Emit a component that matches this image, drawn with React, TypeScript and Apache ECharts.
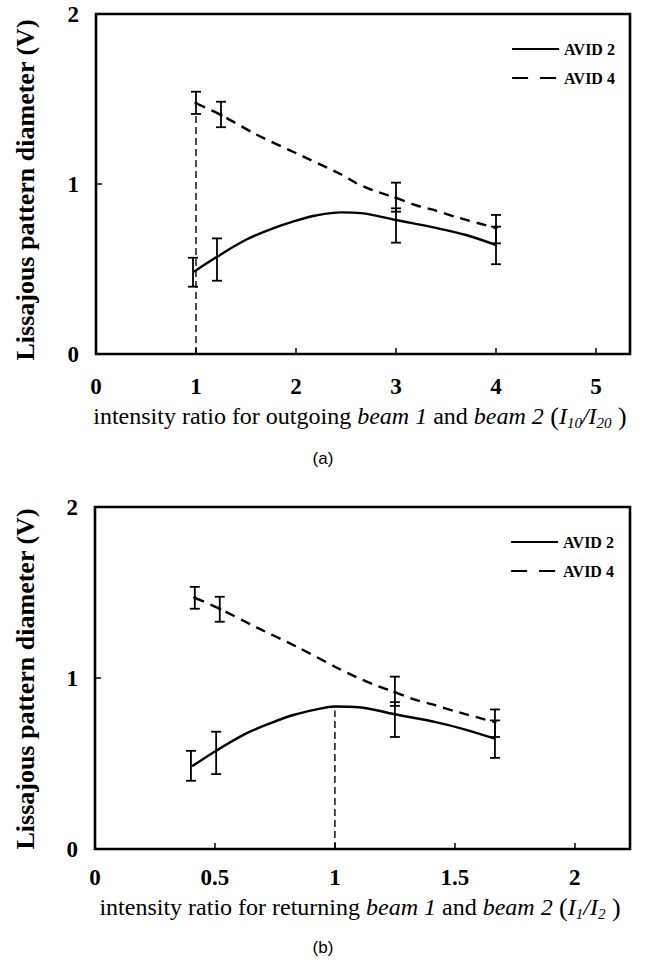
import React, { useEffect, useRef } from 'react';
import * as echarts from 'echarts';

// ---------- data ----------
const seriesNames = ['AVID 2', 'AVID 4'];
const yTickRange = [0, 2];
const yTickStep = 1;

// (a) outgoing beams, x = I10/I20
const aXRange = [0, 5.34];
const aXStep = 1;
const aAvid2CurveX = [0.98, 1.21, 1.5, 1.75, 2.0, 2.2, 2.45, 2.65, 3.0, 3.4, 3.7, 4.0];
const aAvid2CurveY = [0.484, 0.572, 0.672, 0.735, 0.785, 0.815, 0.833, 0.829, 0.788, 0.742, 0.7, 0.641];
const aAvid4CurveX = [1.0, 1.25, 1.6, 2.02, 2.44, 2.6, 2.77, 3.0, 3.2, 3.4, 3.6, 4.0];
const aAvid4CurveY = [1.475, 1.406, 1.292, 1.176, 1.06, 1.006, 0.963, 0.918, 0.875, 0.843, 0.806, 0.741];
const aAvid2ErrX = [0.97, 1.21, 3.0, 4.0];
const aAvid2ErrY = [0.484, 0.572, 0.788, 0.641];
const aAvid2ErrLow = [0.396, 0.431, 0.655, 0.528];
const aAvid2ErrHigh = [0.566, 0.68, 0.857, 0.749];
const aAvid4ErrX = [1.0, 1.25, 3.0, 4.0];
const aAvid4ErrY = [1.475, 1.406, 0.918, 0.741];
const aAvid4ErrLow = [1.412, 1.334, 0.837, 0.651];
const aAvid4ErrHigh = [1.543, 1.484, 1.008, 0.818];
const aRefLineX = [1, 1];
const aRefLineY = [0, 1.41];

// (b) returning beams, x = I1/I2
const bXRange = [0, 2.23];
const bXStep = 0.5;
const bAvid2CurveX = [0.405, 0.505, 0.625, 0.73, 0.83, 0.92, 1.0, 1.1, 1.25, 1.42, 1.54, 1.667];
const bAvid2CurveY = [0.484, 0.575, 0.672, 0.735, 0.785, 0.815, 0.833, 0.829, 0.788, 0.742, 0.7, 0.645];
const bAvid4CurveX = [0.416, 0.52, 0.675, 0.848, 1.0, 1.091, 1.16, 1.25, 1.33, 1.42, 1.5, 1.667];
const bAvid4CurveY = [1.469, 1.405, 1.295, 1.178, 1.066, 1.004, 0.963, 0.917, 0.875, 0.84, 0.806, 0.742];
const bAvid2ErrX = [0.4, 0.505, 1.25, 1.667];
const bAvid2ErrY = [0.484, 0.575, 0.788, 0.645];
const bAvid2ErrLow = [0.399, 0.438, 0.655, 0.533];
const bAvid2ErrHigh = [0.574, 0.686, 0.859, 0.752];
const bAvid4ErrX = [0.416, 0.52, 1.25, 1.667];
const bAvid4ErrY = [1.469, 1.405, 0.917, 0.742];
const bAvid4ErrLow = [1.405, 1.329, 0.837, 0.655];
const bAvid4ErrHigh = [1.533, 1.475, 1.008, 0.816];
const bRefLineX = [1, 1];
const bRefLineY = [0, 0.81];

// ---------- helpers ----------
const zip2 = (xs: number[], ys: number[]) => xs.map((x, i) => [x, ys[i]]);
const zip4 = (xs: number[], ys: number[], lo: number[], hi: number[]) =>
  xs.map((x, i) => [x, ys[i], lo[i], hi[i]]);

const SERIF = 'Liberation Serif';
const DASH_CURVE = [10, 7];

function errRender(dot: boolean) {
  return (_params: any, api: any) => {
    const x = api.value(0);
    const y = api.value(1);
    const lo = api.value(2);
    const hi = api.value(3);
    const pHi = api.coord([x, hi]);
    const pLo = api.coord([x, lo]);
    const pC = api.coord([x, y]);
    const hw = 5;
    const style = { stroke: '#000', lineWidth: 1.8, fill: 'none' };
    const children: any[] = [
      { type: 'line', shape: { x1: pHi[0], y1: pHi[1], x2: pLo[0], y2: pLo[1] }, style },
      { type: 'line', shape: { x1: pHi[0] - hw, y1: pHi[1], x2: pHi[0] + hw, y2: pHi[1] }, style },
      { type: 'line', shape: { x1: pLo[0] - hw, y1: pLo[1], x2: pLo[0] + hw, y2: pLo[1] }, style },
    ];
    if (dot) {
      children.push({ type: 'circle', shape: { cx: pC[0], cy: pC[1], r: 1.7 }, style: { fill: '#000' } });
    }
    return { type: 'group', children };
  };
}

function xAxisCfg(gridIndex: number, range: number[], step: number, margin: number) {
  return {
    type: 'value',
    gridIndex,
    min: range[0],
    max: range[1],
    interval: step,
    axisLine: { show: false },
    axisTick: { show: true, inside: true, length: 6, lineStyle: { color: '#000', width: 1.5 } },
    splitLine: { show: false },
    axisLabel: {
      showMaxLabel: false,
      margin,
      color: '#000',
      fontFamily: SERIF,
      fontWeight: 'bold',
      fontSize: 23,
    },
  };
}

function yAxisCfg(gridIndex: number) {
  return {
    type: 'value',
    gridIndex,
    min: yTickRange[0],
    max: yTickRange[1],
    interval: yTickStep,
    axisLine: { show: false },
    axisTick: { show: true, inside: true, length: 6, lineStyle: { color: '#000', width: 1.5 } },
    splitLine: { show: false },
    axisLabel: {
      margin: 17,
      color: '#000',
      fontFamily: SERIF,
      fontWeight: 'bold',
      fontSize: 23,
    },
  };
}

function legendCfg(left: number, top: number) {
  return {
    orient: 'vertical',
    left,
    top,
    itemWidth: 47,
    itemHeight: 14,
    itemGap: 13,
    selectedMode: false,
    itemStyle: { color: 'rgba(0,0,0,0)', borderColor: 'rgba(0,0,0,0)', borderWidth: 0 },
    textStyle: { color: '#000', fontFamily: SERIF, fontWeight: 'bold', fontSize: 16 },
    data: [
      { name: seriesNames[0], lineStyle: { color: '#000', width: 2.2, type: 'solid' } },
      { name: seriesNames[1], lineStyle: { color: '#000', width: 2.2, type: [16, 12] } },
    ],
  };
}

function seriesFor(idx: number, d: any) {
  return [
    {
      name: seriesNames[0],
      type: 'line',
      xAxisIndex: idx,
      yAxisIndex: idx,
      data: d.c2,
      smooth: 0.35,
      symbol: 'none',
      lineStyle: { color: '#000', width: 2.4, type: 'solid' },
      itemStyle: { color: '#000' },
      z: 3,
    },
    {
      name: seriesNames[1],
      type: 'line',
      xAxisIndex: idx,
      yAxisIndex: idx,
      data: d.c4,
      smooth: 0.25,
      symbol: 'none',
      lineStyle: { color: '#000', width: 2.4, type: DASH_CURVE },
      itemStyle: { color: '#000' },
      z: 3,
    },
    {
      name: 'ref' + idx,
      type: 'line',
      xAxisIndex: idx,
      yAxisIndex: idx,
      data: d.ref,
      symbol: 'none',
      lineStyle: { color: '#000', width: 1.4, type: [7, 4] },
      z: 2,
    },
    {
      name: 'err2-' + idx,
      type: 'custom',
      xAxisIndex: idx,
      yAxisIndex: idx,
      data: d.e2,
      renderItem: errRender(false),
      z: 4,
    },
    {
      name: 'err4-' + idx,
      type: 'custom',
      xAxisIndex: idx,
      yAxisIndex: idx,
      data: d.e4,
      renderItem: errRender(true),
      z: 4,
    },
  ];
}

function xTitle(x: number, y: number, mid: string, sub1: string, sub2: string) {
  const base = { fontFamily: SERIF, fontSize: 24, lineHeight: 28 };
  return {
    type: 'text',
    x,
    y,
    style: {
      text:
        '{n|intensity ratio for ' + mid + ' }{i|beam 1}{n| and }{i|beam 2}{p| (}{i|I}{s|' +
        sub1 +
        '}{i|/I}{s|' +
        sub2 +
        '}{p| )}',
      fill: '#000',
      align: 'center',
      verticalAlign: 'middle',
      rich: {
        n: { ...base },
        p: { ...base, fontSize: 26 },
        i: { ...base, fontStyle: 'italic' },
        s: { fontFamily: SERIF, fontSize: 15, lineHeight: 16, fontStyle: 'italic', verticalAlign: 'bottom' },
      },
    },
  };
}

function yTitle(x: number, y: number) {
  return {
    type: 'text',
    x,
    y,
    rotation: Math.PI / 2,
    style: {
      text: 'Lissajous pattern diameter (V)',
      fill: '#000',
      fontFamily: SERIF,
      fontWeight: 'bold',
      fontSize: 26,
      align: 'center',
      verticalAlign: 'middle',
    },
  };
}

function panelLabel(x: number, y: number, t: string) {
  return {
    type: 'text',
    x,
    y,
    style: {
      text: t,
      fill: '#000',
      fontFamily: 'Liberation Sans',
      fontSize: 17,
      align: 'center',
      verticalAlign: 'middle',
    },
  };
}

export default function App() {
  const ref = useRef<HTMLDivElement>(null);

  useEffect(() => {
    document.body.style.margin = '0';
    if (!ref.current) return;
    const chart = echarts.init(ref.current, null, { renderer: 'svg' });

    const dA = {
      c2: zip2(aAvid2CurveX, aAvid2CurveY),
      c4: zip2(aAvid4CurveX, aAvid4CurveY),
      ref: zip2(aRefLineX, aRefLineY),
      e2: zip4(aAvid2ErrX, aAvid2ErrY, aAvid2ErrLow, aAvid2ErrHigh),
      e4: zip4(aAvid4ErrX, aAvid4ErrY, aAvid4ErrLow, aAvid4ErrHigh),
    };
    const dB = {
      c2: zip2(bAvid2CurveX, bAvid2CurveY),
      c4: zip2(bAvid4CurveX, bAvid4CurveY),
      ref: zip2(bRefLineX, bRefLineY),
      e2: zip4(bAvid2ErrX, bAvid2ErrY, bAvid2ErrLow, bAvid2ErrHigh),
      e4: zip4(bAvid4ErrX, bAvid4ErrY, bAvid4ErrLow, bAvid4ErrHigh),
    };

    const option: any = {
      animation: false,
      backgroundColor: '#fff',
      grid: [
        { left: 96, top: 14, width: 534, height: 340, show: true, borderColor: '#000', borderWidth: 2.6, backgroundColor: 'transparent' },
        { left: 95, top: 507, width: 535, height: 342, show: true, borderColor: '#000', borderWidth: 2.6, backgroundColor: 'transparent' },
      ],
      xAxis: [xAxisCfg(0, aXRange, aXStep, 21), xAxisCfg(1, bXRange, bXStep, 17)],
      yAxis: [yAxisCfg(0), yAxisCfg(1)],
      legend: [legendCfg(506, 36), legendCfg(505, 529)],
      graphic: [
        yTitle(25, 190),
        yTitle(25, 679),
        xTitle(360, 416, 'outgoing', '10', '20'),
        xTitle(360, 907, 'returning', '1', '2'),
        panelLabel(323, 458, '(a)'),
        panelLabel(323, 947, '(b)'),
      ],
      series: [...seriesFor(0, dA), ...seriesFor(1, dB)],
    };

    chart.setOption(option);
    return () => chart.dispose();
  }, []);

  return <div ref={ref} style={{ width: 649, height: 967 }} />;
}
